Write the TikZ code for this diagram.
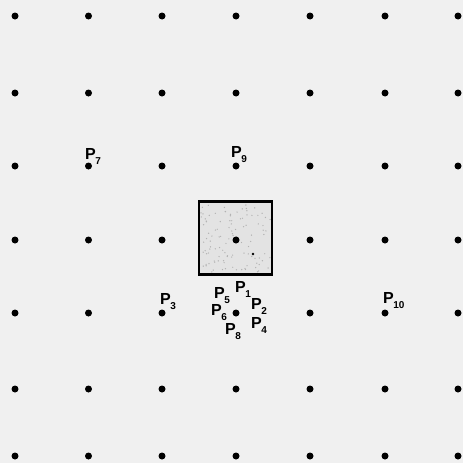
\documentclass[tikz,border=0pt]{standalone}
\usepackage{fontspec}
\setmainfont{Liberation Sans}
\begin{document}
\begin{tikzpicture}[x=1pt,y=-1pt,
  gdot/.style={circle,fill=black,inner sep=0pt,minimum size=7pt},
  plab/.style={anchor=base west,inner sep=0pt,font=\bfseries\fontsize{16}{16}\selectfont},
  box/.style={draw=black,line width=2.6pt,fill=gray!22,minimum size=73pt,inner sep=0pt}]
\newcommand{\Plab}[1]{P\kern-0.5pt\raisebox{-5pt}{\fontsize{10}{10}\selectfont #1}}
\fill[black!6] (0,0) rectangle (463,463);
\useasboundingbox (0,0) rectangle (463,463);
% square
\node[box] (sq) at (235.5,238) {};
\pgfmathsetseed{7}
\foreach \k in {1,...,110}{
  \pgfmathsetmacro{\rx}{201+70*rnd}
  \pgfmathsetmacro{\ry}{204+68*rnd}
  \fill[gray!60] (\rx,\ry) circle (0.7pt);
}
\fill[black] (253,254) circle (1.4pt);
% grid of dots
\foreach \x [count=\i] in {15,88.5,162,236,310,385,458}{
  \foreach \y [count=\j] in {16,93,166,240,313,389,456}{
    \node[gdot] (d-\i-\j) at (\x,\y) {};
  }
}
% labels
\node[plab] (p7) at (85,159) {\Plab{7}};
\node[plab] (p9) at (231,157) {\Plab{9}};
\node[plab] (p3) at (160,304) {\Plab{3}};
\node[plab] (p10) at (383,303) {\Plab{10}};
\node[plab] (p1) at (235,292) {\Plab{1}};
\node[plab] (p5) at (214,298) {\Plab{5}};
\node[plab] (p2) at (251,309) {\Plab{2}};
\node[plab] (p6) at (211,315) {\Plab{6}};
\node[plab] (p8) at (225,334) {\Plab{8}};
\node[plab] (p4) at (251,328) {\Plab{4}};
\end{tikzpicture}
\end{document}
